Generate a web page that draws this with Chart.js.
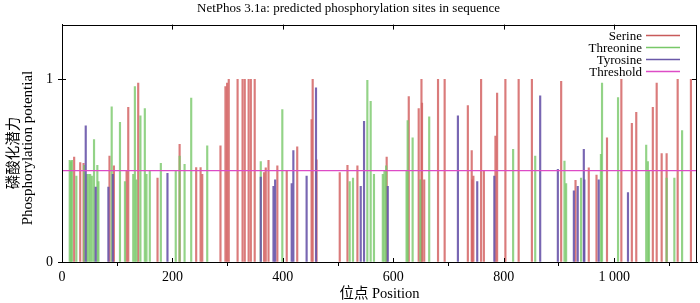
<!DOCTYPE html>
<html>
<head>
<meta charset="utf-8">
<script src="https://cdn.jsdelivr.net/npm/chart.js@4.4.0/dist/chart.umd.min.js"></script>
<style>
  html, body { margin: 0; padding: 0; background: #fff; }
  #wrap { width: 700px; height: 303px; }
</style>
</head>
<body>
<div id="wrap"><canvas id="graphCanvas"></canvas></div>
<script>
// positions / potentials
var serinePos = [22, 33, 39, 86, 94, 117, 120, 138, 173, 213, 243, 251, 254, 287, 296, 299, 302, 318, 327, 331, 338, 342, 349,
    366, 369, 374, 390, 407, 426, 452, 454, 461, 503, 517, 535, 588, 628, 646, 651, 652, 656, 681, 693, 735, 742, 743, 745,
    759, 764, 785, 788, 803, 827, 851, 904, 930, 954, 968, 987, 1013, 1032, 1040, 1070, 1077, 1086, 1095, 1115, 1139];
var serineVal = [0.575, 0.544, 0.54, 0.58, 0.526, 0.5, 0.847, 0.98, 0.46, 0.645, 0.517, 0.517, 0.48, 0.636, 0.96, 0.98, 1.0, 1.0, 1.0, 1.0, 1.0, 1.0, 1.0,
    0.49, 0.516, 0.557, 0.526, 0.5, 0.63, 0.78, 1.0, 0.56, 0.49, 0.53, 0.526, 0.575, 0.906, 0.84, 1.0, 0.87, 0.45, 1.0, 1.0, 0.857, 0.61, 0.45, 0.47,
    1.0, 0.5, 0.69, 0.925, 1.0, 1.0, 1.0, 0.99, 0.447, 0.516, 0.476, 0.68, 1.0, 0.76, 0.82, 0.847, 0.98, 0.594, 0.594, 1.0, 1.0];

var threoninePos = [14, 16, 18, 26, 40, 45, 48, 51, 54, 58, 64, 66, 90, 105, 114, 129, 132, 135, 142, 150, 153, 159, 179,
    206, 213, 222, 234, 263, 360, 399, 521, 527, 553, 559, 565, 581, 584, 587, 624, 626, 635, 649, 665,
    817, 857, 910, 913, 940, 976, 978, 1007, 1058, 1061, 1063, 1095, 1109, 1123];
var threonineVal = [0.557, 0.55, 0.557, 0.47, 0.53, 0.48, 0.48, 0.48, 0.47, 0.67, 0.53, 0.44, 0.85, 0.765, 0.44, 0.48, 0.96, 0.45, 0.8, 0.84, 0.48, 0.5, 0.54,
    0.5, 0.58, 0.535, 0.897, 0.636, 0.55, 0.835, 0.44, 0.46, 0.995, 0.88, 0.48, 0.48, 0.5, 0.526, 0.5, 0.774, 0.68, 0.45, 0.795,
    0.617, 0.58, 0.553, 0.43, 0.46, 0.59, 0.98, 0.9, 0.64, 0.55, 0.5, 0.46, 0.46, 0.72];

var tyrosinePos = [43, 61, 84, 92, 191, 360, 383, 386, 416, 419, 443, 460, 541, 547, 590, 717, 752, 783, 866, 898, 927, 934, 945, 946, 972, 1025];
var tyrosineVal = [0.746, 0.41, 0.41, 0.48, 0.485, 0.465, 0.415, 0.45, 0.43, 0.61, 0.47, 0.954, 0.415, 0.77, 0.415, 0.8, 0.44, 0.47, 0.91, 0.507, 0.39, 0.415, 0.617, 0.45, 0.45, 0.38];

var thresholdValue = 0.5;
var seqLength = 1150;
var xTicks = [0, 200, 400, 600, 800, 1000];
var yTicks = [0, 1];
var yTitleCn = '磷酸化潜力';
var yTitleEn = 'Phosphorylation potential';

var serif = "'Liberation Serif', 'Noto Sans CJK SC', serif";

function pairs(xs, ys) {
    var out = [];
    for (var i in xs) {
        out.push({ x: xs[i], y: ys[i] });
    }
    return out;
}

var colSer = 'rgba(212, 100, 100, 0.85)';
var colThr = 'rgba(120, 200, 105, 0.8)';
var colTyr = 'rgba(105, 85, 170, 0.9)';
var colThresh = '#dd4cc6';

// frame, mirrored ticks, y title (two fonts) and in-plot legend, gnuplot style
var frameLegend = {
    id: 'frameLegend',
    afterDraw: function(chart) {
        var ctx = chart.ctx;
        var a = chart.chartArea;
        ctx.save();
        ctx.strokeStyle = '#000';
        ctx.lineWidth = 1;
        ctx.strokeRect(Math.round(a.left) + 0.5, Math.round(a.top) + 0.5, Math.round(a.right - a.left) - 1, Math.round(a.bottom - a.top));
        var xs = chart.scales.x, ys = chart.scales.y;
        ctx.beginPath();
        xTicks.forEach(function(v) {
            var px = Math.round(xs.getPixelForValue(v)) + 0.5;
            ctx.moveTo(px, a.top);
            ctx.lineTo(px, a.top + 5);
            ctx.moveTo(px, a.bottom);
            ctx.lineTo(px, a.bottom - 4);
        });
        yTicks.forEach(function(v) {
            var py = Math.round(ys.getPixelForValue(v)) + 0.5;
            ctx.moveTo(a.right, py);
            ctx.lineTo(a.right - 5, py);
            ctx.moveTo(a.left, py);
            ctx.lineTo(a.left + 4, py);
        });
        ctx.stroke();

        // y title
        ctx.fillStyle = '#000';
        ctx.textAlign = 'center';
        ctx.textBaseline = 'middle';
        ctx.save();
        ctx.translate(12, 153);
        ctx.rotate(-Math.PI / 2);
        ctx.font = "14.5px 'Noto Sans CJK SC', serif";
        ctx.fillText(yTitleCn, 0, 0);
        ctx.restore();
        ctx.save();
        ctx.translate(28, 148);
        ctx.rotate(-Math.PI / 2);
        ctx.font = '15px ' + serif;
        ctx.fillText(yTitleEn, 0, 0);
        ctx.restore();

        var items = chart.data.datasets;
        ctx.font = '13px ' + serif;
        ctx.textAlign = 'right';
        var rows = [35.5, 47.5, 59.5, 71.5];
        items.forEach(function(d, i) {
            ctx.fillStyle = '#000';
            ctx.fillText(d.label, 642, rows[i] + 1);
            ctx.strokeStyle = d.legendColor;
            ctx.lineWidth = 1.5;
            ctx.beginPath();
            ctx.moveTo(646, rows[i]);
            ctx.lineTo(680, rows[i]);
            ctx.stroke();
        });
        ctx.restore();
    }
};

var chartdata = {
    datasets: [{
        type: 'bar',
        label: 'Serine',
        data: pairs(serinePos, serineVal),
        backgroundColor: colSer,
        legendColor: '#c85a5a',
        barThickness: 1.5,
        grouped: false,
        order: 3
    }, {
        type: 'bar',
        label: 'Threonine',
        data: pairs(threoninePos, threonineVal),
        backgroundColor: colThr,
        legendColor: '#78c868',
        barThickness: 1.5,
        grouped: false,
        order: 2
    }, {
        type: 'bar',
        label: 'Tyrosine',
        data: pairs(tyrosinePos, tyrosineVal),
        backgroundColor: colTyr,
        legendColor: '#6a58a8',
        barThickness: 1.5,
        grouped: false,
        order: 1
    }, {
        type: 'line',
        label: 'Threshold',
        data: [{ x: 0, y: thresholdValue }, { x: seqLength, y: thresholdValue }],
        borderColor: colThresh,
        legendColor: colThresh,
        borderWidth: 1.2,
        pointRadius: 0,
        order: 0
    }]
};

var barGraph = new Chart(document.getElementById('graphCanvas'), {
    type: 'bar',
    data: chartdata,
    plugins: [frameLegend],
    options: {
        responsive: true,
        maintainAspectRatio: false,
        animation: false,
        layout: { padding: { right: 3, left: 0, top: 0, bottom: 0 } },
        plugins: {
            legend: { display: false },
            tooltip: { enabled: false },
            title: {
                display: true,
                text: 'NetPhos 3.1a: predicted phosphorylation sites in sequence',
                color: '#000',
                font: { family: serif, size: 13, weight: 'normal' },
                padding: { top: 1, bottom: 8 }
            }
        },
        scales: {
            x: {
                type: 'linear',
                min: 0,
                max: seqLength,
                offset: false,
                afterBuildTicks: function(s) { s.ticks = xTicks.map(function(v) { return { value: v }; }); },
                afterFit: function(s) { s.height = 41; },
                grid: { drawOnChartArea: false, tickLength: 4, color: '#000' },
                border: { color: '#000' },
                ticks: {
                    color: '#000',
                    maxRotation: 0,
                    padding: 3,
                    font: { family: serif, size: 14 },
                    callback: function(v) { return v >= 1000 ? '1 000' : String(v); }
                },
                title: {
                    display: true,
                    text: '位点 Position',
                    color: '#000',
                    padding: { top: 0, bottom: 0 },
                    font: { family: serif, size: 14.5 }
                }
            },
            y: {
                min: 0,
                max: 1.3,
                afterBuildTicks: function(s) { s.ticks = yTicks.map(function(v) { return { value: v }; }); },
                afterFit: function(s) { s.width = 62; },
                grid: { drawOnChartArea: false, tickLength: 4, color: '#000' },
                border: { color: '#000' },
                ticks: {
                    color: '#000',
                    padding: 5,
                    font: { family: serif, size: 14 }
                }
            }
        }
    }
});
</script>
</body>
</html>
